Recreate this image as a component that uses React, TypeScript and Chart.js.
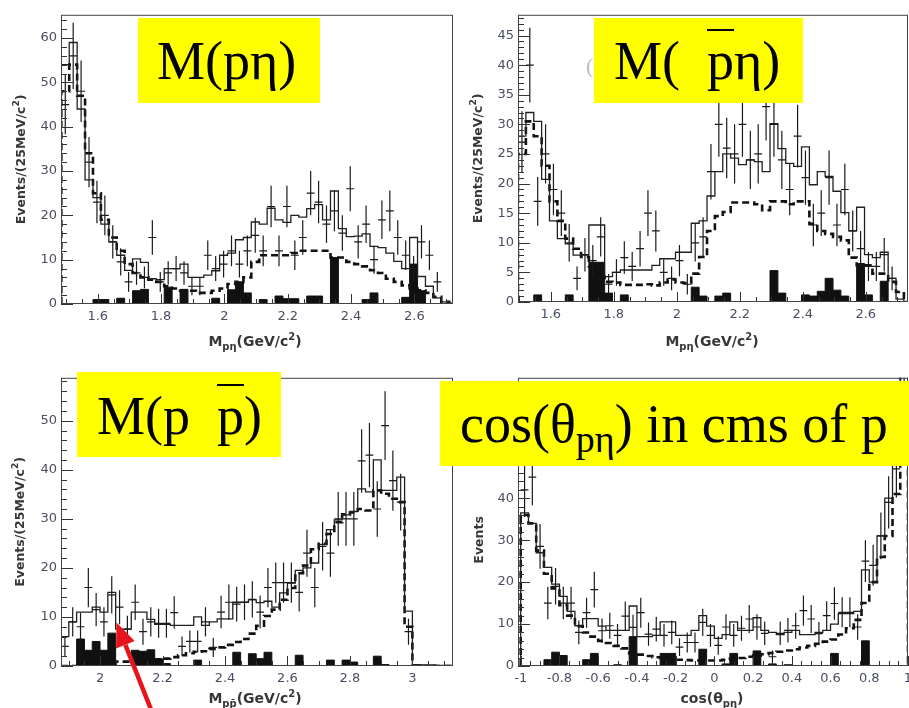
import React, { useEffect, useRef } from "react";
import { Chart, registerables } from "chart.js";

Chart.register(...registerables);

// ---------------- data ----------------
const BIN_W_MASS = 0.025;
const BIN_W_COS = 0.04;
const BIN0_PETA = 1.485;
const BIN0_PBARETA = 1.496;
const BIN0_PPBAR = 1.875;
const BIN0_COS = -1.0;

const X_TICKS_PETA = [1.6, 1.8, 2, 2.2, 2.4, 2.6];
const X_TICKS_PBARETA = [1.6, 1.8, 2, 2.2, 2.4, 2.6];
const X_TICKS_PPBAR = [2, 2.2, 2.4, 2.6, 2.8, 3];
const X_TICKS_COS = [-1, -0.8, -0.6, -0.4, -0.2, 0, 0.2, 0.4, 0.6, 0.8, 1];
const Y_TICKS_PETA = [0, 10, 20, 30, 40, 50, 60];
const Y_TICKS_PBARETA = [0, 5, 10, 15, 20, 25, 30, 35, 40, 45];
const Y_TICKS_PPBAR = [0, 10, 20, 30, 40, 50];
const Y_TICKS_COS = [0, 10, 20, 30, 40, 50, 60];

// M(p eta)
const DATA_PETA = [45, 56, 48, 32, 23, 20, 14, 9.5, 5, 7, 6, 15, 5, 7, 8, 7, 4, 4, 11, 8, 9, 12, 9, 12, 15.5, 12, 22, 12, 22, 11, 15, 25, 23, 18, 21, 16, 26, 14, 18, 10, 19, 21, 15, 11, 8, 14, 11, 5, 0, 0];
const FIT_PETA = [54, 59, 44, 28, 24, 18, 14, 11, 7.6, 10.2, 9.4, 5.7, 5.5, 8, 8, 9, 6, 6, 6.5, 7.5, 11, 11.5, 14.5, 15, 18.5, 18, 21.6, 19, 18.4, 20, 19.6, 21.5, 22.4, 19, 25.5, 17, 15.2, 15.3, 15.8, 13, 12.7, 11.5, 9.6, 8, 15, 6.2, 4, 1.4, 0.5, 0.2];
const PHSP_PETA = [48, 54, 47, 34, 25, 19, 15, 12, 9, 7, 6, 5.5, 5, 4, 3.5, 3, 3, 2.5, 2.5, 3, 3.5, 4.5, 5, 6, 9.5, 11, 11, 11, 11, 11.5, 12, 12, 12, 12, 10.5, 10.5, 9.5, 9, 8.5, 7.6, 7, 5.7, 5, 4.2, 3.5, 3.1, 2.5, 1.6, 0.5, 0];
const BKG_PETA = [0, 0, 0, 0, 1, 1, 0, 1.3, 0, 3, 3.3, 0, 0, 3.8, 0, 3.3, 0, 0, 0, 1.3, 0, 3.2, 5, 2.5, 0, 1, 0, 1.8, 1.2, 1.2, 0, 1.8, 1.8, 0, 10.5, 0, 0, 0, 1, 2.5, 0, 0, 0, 1.5, 9, 3, 0, 0, 0, 0];

// M(pbar eta)
const DATA_PBARETA = [27, 40, 17, 25, 19, 15, 10, 4, 8, 7, 11, 3, 5, 7.5, 6, 9, 15, 12, 5, 4, 7, 3, 10, 11, 22, 30, 26, 25, 30, 24, 25, 33, 30, 24, 19, 28, 21, 13, 15, 21, 13, 19, 12, 9, 6, 6, 8, 4, 0, 0];
const FIT_PBARETA = [28, 32, 30.5, 20.7, 13.7, 10.7, 9.8, 7.9, 7.9, 13, 13, 4.3, 5, 5.4, 5.4, 5.4, 5.4, 6.2, 7.3, 7.3, 8.4, 8.4, 13.3, 13.7, 17.9, 22, 25, 24.3, 23.2, 24, 23.7, 22, 30.1, 25.9, 23.4, 22.9, 26.2, 19.8, 22, 21.2, 18.7, 15.1, 12, 16, 8, 7.5, 8.4, 4, 0.5, 0];
const PHSP_PBARETA = [25, 30.5, 28, 23, 17, 13.7, 10.7, 9, 7.6, 6, 4.3, 3.4, 3.3, 2.9, 2.9, 2.9, 3, 2.8, 3.3, 3.8, 3.3, 3.2, 4.8, 7.6, 12, 14.5, 15.2, 16.8, 16.8, 16.8, 16.5, 15.5, 17, 17, 16.5, 17, 17, 13.2, 12, 11.5, 11, 10.4, 7.5, 6.2, 6.2, 4.8, 4.8, 3.4, 1.7, 0];
const BKG_PBARETA = [0, 0, 1.2, 0, 0, 0, 1.2, 0, 0, 6.7, 6.7, 1.5, 0, 1.2, 0, 0, 0, 0, 0, 0, 0, 0, 2.5, 1, 0, 1, 1.5, 0, 0, 0, 0, 0, 5.3, 1.5, 0, 0, 1.2, 1, 1.8, 4, 2, 1, 0, 6.5, 1.2, 0, 3.5, 0, 0, 0];

// M(p pbar)
const DATA_PPBAR = [4, 9, 8, 16, 11.5, 9, 14.5, 12, 7.5, 13, 7, 9, 8.7, 8.7, 10.9, 4, 5, 5, 9, 3.8, 11, 13, 12.6, 13, 13.6, 11, 16, 17, 17, 17, 15, 23, 16, 24.4, 23, 30, 30, 30, 41.8, 43, 32, 49, 37.8, 33.4, 7, 0, 0, 0, 0, 0];
const FIT_PPBAR = [6, 9, 11, 11, 12, 11, 15, 7.5, 7.5, 11, 11, 9.5, 8.5, 8.5, 8.3, 8.3, 8.3, 10, 8.3, 9, 9.6, 9.6, 13, 13, 13.5, 12.9, 13.2, 12, 14.9, 16.9, 19.5, 20, 21, 24.8, 27.8, 29.8, 30.8, 31.5, 36.1, 35.5, 42, 35.8, 35.8, 38.5, 11.2, 0.3, 0.2, 0.2, 0.1, 0.1];
const PHSP_PPBAR = [0, 0, 0, 0, 0, 0, 0.5, 0.9, 0.9, 1, 1, 1.2, 1.3, 1.5, 1.8, 2.2, 2.6, 2.9, 3, 3.5, 3.8, 4.3, 4.9, 5.5, 6.6, 8.2, 10.2, 11.5, 13.5, 15.9, 18.9, 20.5, 23.8, 24.9, 26.9, 29.3, 30.9, 31.3, 32, 31.7, 35.8, 35.1, 34.1, 33.4, 8, 0, 0, 0, 0, 0];
const BKG_PPBAR = [0, 0, 5.5, 3.2, 5, 3.2, 6.7, 0, 0, 3.2, 3, 3.3, 1.5, 0.5, 0, 0, 0, 1.2, 0, 0, 0, 0, 2.8, 0, 2.5, 1.5, 2.8, 0, 0, 0, 2.2, 0, 0, 0, 1.2, 0, 1.2, 0.8, 0, 0, 2, 0.3, 0, 0, 0, 0, 0, 0, 0, 0];

// cos(theta_p eta)
const DATA_COS = [42, 45, 28.5, 15, 19, 15, 15, 8, 12.7, 18.2, 8.4, 9.6, 7.3, 11.9, 9.2, 12.7, 7.6, 8.8, 7.3, 8, 4.5, 5.6, 5.6, 10.4, 7.3, 4.9, 9.3, 7.3, 9, 11.2, 9.3, 7.8, 2.2, 7.8, 8.5, 9.6, 13.2, 11.2, 7.7, 12, 14.9, 12.8, 12.8, 9.3, 25, 24, 31, 39, 47, 62];
const FIT_COS = [36.5, 34, 27, 23.5, 19.5, 16.6, 13, 9.6, 11.3, 11.3, 9.5, 8.5, 8.5, 8.5, 14.3, 7, 7, 7.3, 10.5, 10.5, 7.3, 7.3, 8.5, 12, 9.5, 6.6, 7.5, 10.5, 8.5, 8.5, 11.5, 8.5, 8, 7.5, 8, 8.5, 7.5, 7.5, 8, 8.5, 10, 12.5, 12.5, 13, 22.9, 20, 31, 40, 48, 75];
const PHSP_COS = [36, 34, 27.5, 22, 18.5, 14.5, 12, 9.5, 8, 7, 6, 5.5, 4.8, 4.2, 3, 2.7, 2.4, 2.1, 1.9, 1.7, 1.5, 1.4, 1.3, 1.3, 1.3, 1.3, 1.5, 1.7, 1.9, 2.2, 2.5, 2.8, 3.1, 3.4, 3.7, 4, 4.4, 4.8, 5.3, 5.8, 6.3, 7.5, 9, 11, 15, 20, 26, 31, 41, 75];
const BKG_COS = [0, 0, 0, 1.5, 3.3, 2.5, 0, 0, 1.5, 3, 0, 0, 0.3, 0, 7, 0, 0, 0, 3, 3, 0, 0, 0, 4, 0, 0, 0.5, 3, 0, 0, 3.6, 0, 0.5, 0, 0.3, 0, 0, 0, 0, 0, 3, 0, 0, 0, 6, 0, 0, 0, 0, 0];

// ---------------- styling / layout ----------------
const SANS = '"DejaVu Sans", "Liberation Sans", Arial, sans-serif';
const SERIF = '"Liberation Serif", "Times New Roman", serif';
const TICK_COLOR = "#4a4e62";
const TITLE_COLOR = "#3a3636";
const Y_AXIS_W = 61;
const PAD_TOP = 8;

type Part = [string, string];

const MASS_Y_TITLE: Part[] = [["Events/(25MeV/c", "n"], ["2", "sup"], [")", "n"]];

const PANELS = [
  {
    key: "peta", L: 61, R: 453, T: 11, B: 304, padRight: 6, xAxH: 50,
    xMin: 1.484, xMax: 2.722, yMax: 65.25, xTicks: X_TICKS_PETA, yTicks: Y_TICKS_PETA,
    xMinor: 0.05, yMinor: 2, bin0: BIN0_PETA, bw: BIN_W_MASS,
    data: DATA_PETA, fit: FIT_PETA, phsp: PHSP_PETA, bkg: BKG_PETA,
    xTitle: [["M", "n"], ["p\u03b7", "sub"], ["(GeV/c", "n"], ["2", "sup"], [")", "n"]] as Part[],
    yTitle: MASS_Y_TITLE, xTitleDx: -2, xTitleDy: 42, yTitleDx: -41, yTitleDy: 0,
  },
  {
    key: "pbareta", L: 518, R: 908, T: 11, B: 302, padRight: 12, xAxH: 50,
    xMin: 1.496, xMax: 2.734, yMax: 48.5, xTicks: X_TICKS_PBARETA, yTicks: Y_TICKS_PBARETA,
    xMinor: 0.05, yMinor: 1, bin0: BIN0_PBARETA, bw: BIN_W_MASS,
    data: DATA_PBARETA, fit: FIT_PBARETA, phsp: PHSP_PBARETA, bkg: BKG_PBARETA,
    xTitle: [["M", "n"], ["p\u03b7", "sub"], ["(GeV/c", "n"], ["2", "sup"], [")", "n"]] as Part[],
    yTitle: MASS_Y_TITLE, xTitleDx: -1, xTitleDy: 44, yTitleDx: -41, yTitleDy: 0,
  },
  {
    key: "ppbar", L: 61, R: 453, T: 374, B: 666, padRight: 6, xAxH: 42,
    xMin: 1.875, xMax: 3.13, yMax: 58.75, xTicks: X_TICKS_PPBAR, yTicks: Y_TICKS_PPBAR,
    xMinor: 0.05, yMinor: 2, bin0: BIN0_PPBAR, bw: BIN_W_MASS,
    data: DATA_PPBAR, fit: FIT_PPBAR, phsp: PHSP_PPBAR, bkg: BKG_PPBAR,
    xTitle: [["M", "n"], ["pp\u0304", "sub"], ["(GeV/c", "n"], ["2", "sup"], [")", "n"]] as Part[],
    yTitle: MASS_Y_TITLE, xTitleDx: -2, xTitleDy: 37, yTitleDx: -42, yTitleDy: 0,
  },
  {
    key: "cos", L: 518, R: 908, T: 374, B: 666, padRight: 12, xAxH: 42,
    xMin: -1.014, xMax: 1.0, yMax: 68.7, xTicks: X_TICKS_COS, yTicks: Y_TICKS_COS,
    xMinor: 0.05, yMinor: 2, bin0: BIN0_COS, bw: BIN_W_COS,
    data: DATA_COS, fit: FIT_COS, phsp: PHSP_COS, bkg: BKG_COS,
    xTitle: [["cos(\u03b8", "n"], ["p\u03b7", "sub"], [")", "n"]] as Part[],
    yTitle: [["Events", "n"]] as Part[], xTitleDx: -1, xTitleDy: 37, yTitleDx: -40, yTitleDy: 18,
  },
];

// ---------------- helpers ----------------
function histPoints(bin0: number, w: number, vals: number[]) {
  const pts: { x: number; y: number }[] = [{ x: bin0, y: 0 }];
  vals.forEach((v, k) => pts.push({ x: bin0 + k * w, y: v }));
  const end = bin0 + vals.length * w;
  pts.push({ x: end, y: vals[vals.length - 1] });
  pts.push({ x: end, y: 0 });
  return pts;
}

function crossPoints(bin0: number, w: number, vals: number[]) {
  const pts: { x: number; y: number | null }[] = [];
  vals.forEach((v, k) => {
    if (v <= 0) return;
    const c = bin0 + (k + 0.5) * w;
    const e = Math.sqrt(v);
    pts.push({ x: c, y: v - e }, { x: c, y: v + e }, { x: c, y: null });
    pts.push({ x: c - w / 2, y: v }, { x: c + w / 2, y: v }, { x: c, y: null });
  });
  return pts;
}

function drawParts(ctx: CanvasRenderingContext2D, parts: Part[], size: number, cx: number, baseline: number) {
  const fN = `bold ${size}px ${SANS}`;
  const fS = `bold ${Math.round(size * 0.7)}px ${SANS}`;
  let total = 0;
  const widths = parts.map(([t, k]) => {
    ctx.font = k === "n" ? fN : fS;
    const w = ctx.measureText(t).width;
    total += w;
    return w;
  });
  let x = cx - total / 2;
  ctx.textAlign = "left";
  ctx.textBaseline = "alphabetic";
  parts.forEach(([t, k], i) => {
    ctx.font = k === "n" ? fN : fS;
    const dy = k === "sub" ? size * 0.32 : k === "sup" ? -size * 0.42 : 0;
    ctx.fillText(t, x, baseline + dy);
    x += widths[i];
  });
}

const rootFrame = {
  id: "rootFrame",
  afterDraw(chart: any, _args: any, o: any) {
    const { ctx, chartArea: a } = chart;
    const xs = chart.scales.x;
    const ys = chart.scales.y;
    const isMaj = (v: number, list: number[]) => list.some((m) => Math.abs(m - v) < 1e-6);
    ctx.save();
    ctx.strokeStyle = "#333";
    ctx.lineWidth = 1;
    ctx.beginPath();
    const i0 = Math.ceil(xs.min / o.xMinor - 1e-6);
    const i1 = Math.floor(xs.max / o.xMinor + 1e-6);
    for (let i = i0; i <= i1; i++) {
      const v = i * o.xMinor;
      const len = isMaj(v, o.xTicks) ? 10 : 5;
      const px = Math.round(xs.getPixelForValue(v)) + 0.5;
      ctx.moveTo(px, a.bottom);
      ctx.lineTo(px, a.bottom - len);
    }
    const j0 = Math.ceil(ys.min / o.yMinor - 1e-6);
    const j1 = Math.floor(ys.max / o.yMinor + 1e-6);
    for (let j = j0; j <= j1; j++) {
      const v = j * o.yMinor;
      const len = isMaj(v, o.yTicks) ? 12 : 6;
      const py = Math.round(ys.getPixelForValue(v)) + 0.5;
      ctx.moveTo(a.left, py);
      ctx.lineTo(a.left + len, py);
    }
    ctx.stroke();
    ctx.strokeStyle = "#444";
    ctx.strokeRect(a.left + 0.5, a.top + 0.5, a.right - a.left - 1, a.bottom - a.top - 1);

    ctx.fillStyle = TITLE_COLOR;
    drawParts(ctx, o.xTitle, 14, (a.left + a.right) / 2 + o.xTitleDx, a.bottom + o.xTitleDy);
    ctx.translate(a.left + o.yTitleDx, (a.top + a.bottom) / 2 + o.yTitleDy);
    ctx.rotate(-Math.PI / 2);
    drawParts(ctx, o.yTitle, 12.5, 0, 4.5);
    ctx.restore();
  },
};

function PanelChart({ p }: { p: any }) {
  const ref = useRef<HTMLCanvasElement>(null);
  useEffect(() => {
    const tickFont = { family: SANS, size: 13 };
    const chart = new Chart(ref.current as HTMLCanvasElement, {
      type: "line",
      data: {
        datasets: [
          {
            label: "data",
            data: crossPoints(p.bin0, p.bw, p.data),
            borderColor: "#1a1a1a",
            borderWidth: 1.2,
            pointRadius: 0,
            spanGaps: false,
            fill: false,
            order: 0,
          },
          {
            label: "fit",
            data: histPoints(p.bin0, p.bw, p.fit),
            stepped: true,
            borderColor: "#202020",
            borderWidth: 1.3,
            pointRadius: 0,
            fill: false,
            order: 1,
          },
          {
            label: "phase space",
            data: histPoints(p.bin0, p.bw, p.phsp),
            stepped: true,
            borderColor: "#111",
            borderWidth: 2.6,
            borderDash: [7, 4],
            pointRadius: 0,
            fill: false,
            order: 2,
          },
          {
            label: "background",
            data: histPoints(p.bin0, p.bw, p.bkg),
            stepped: true,
            borderColor: "#111",
            borderWidth: 1,
            backgroundColor: "#111",
            pointRadius: 0,
            fill: "origin",
            order: 3,
          },
        ],
      } as any,
      options: {
        animation: false,
        responsive: true,
        maintainAspectRatio: false,
        events: [],
        layout: { padding: { left: 0, right: p.padRight, top: PAD_TOP, bottom: 0 } },
        plugins: {
          legend: { display: false },
          tooltip: { enabled: false },
          title: { display: false },
          rootFrame: {
            xTicks: p.xTicks, yTicks: p.yTicks, xMinor: p.xMinor, yMinor: p.yMinor,
            xTitle: p.xTitle, yTitle: p.yTitle, xTitleDx: p.xTitleDx, xTitleDy: p.xTitleDy,
            yTitleDx: p.yTitleDx, yTitleDy: p.yTitleDy,
          },
        } as any,
        scales: {
          x: {
            type: "linear",
            min: p.xMin,
            max: p.xMax,
            afterBuildTicks: (s: any) => { s.ticks = p.xTicks.map((v: number) => ({ value: v })); },
            afterFit: (s: any) => { s.height = p.xAxH; },
            grid: { display: false, drawTicks: false },
            border: { display: false },
            ticks: {
              autoSkip: false, maxRotation: 0, minRotation: 0, padding: 5,
              color: TICK_COLOR, font: tickFont,
              callback: (v: any) => String(v),
            },
          },
          y: {
            type: "linear",
            min: 0,
            max: p.yMax,
            afterBuildTicks: (s: any) => { s.ticks = p.yTicks.map((v: number) => ({ value: v })); },
            afterFit: (s: any) => { s.width = Y_AXIS_W; },
            grid: { display: false, drawTicks: false },
            border: { display: false },
            ticks: {
              autoSkip: false, padding: 4, color: TICK_COLOR, font: tickFont,
              callback: (v: any) => String(v),
            },
          },
        },
      } as any,
      plugins: [rootFrame as any],
    });
    return () => chart.destroy();
  }, []);
  const left = p.L - Y_AXIS_W;
  const top = p.T - PAD_TOP;
  const width = p.R - p.L + Y_AXIS_W + p.padRight;
  const height = p.B - p.T + PAD_TOP + p.xAxH;
  return (
    <div style={{ position: "absolute", left, top, width, height }}>
      <canvas ref={ref} />
    </div>
  );
}

const LABEL_FONT = 54;
const textStyle = (left: number, baseline: number): React.CSSProperties => ({
  position: "absolute",
  left,
  top: baseline - 45,
  fontFamily: SERIF,
  fontSize: LABEL_FONT,
  lineHeight: `${LABEL_FONT}px`,
  whiteSpace: "pre",
  color: "#000",
});
const boxStyle = (left: number, top: number, width: number, height: number): React.CSSProperties => ({
  position: "absolute",
  left,
  top,
  width,
  height,
  background: "#ffff00",
});
const bar: React.CSSProperties = { textDecoration: "overline", textDecorationThickness: "2px" };

export default function App() {
  return (
    <div style={{ position: "absolute", left: 0, top: 0, width: 909, height: 708, overflow: "hidden", background: "#fff" }}>
      {PANELS.map((p) => (
        <PanelChart key={p.key} p={p} />
      ))}
      <div style={{ position: "absolute", left: 586, top: 55, fontFamily: SERIF, fontSize: 22, lineHeight: "22px", color: "#bdbdbd" }}>(</div>
      <div style={boxStyle(138, 18, 182, 85)} />
      <div style={textStyle(157, 79)}>M(p&#951;)</div>
      <div style={boxStyle(594, 18, 209, 85)} />
      <div style={textStyle(614, 79)}>
        {"M(  "}<span style={bar}>p</span>{"\u03b7)"}
      </div>
      <div style={boxStyle(77, 372, 204, 85)} />
      <div style={textStyle(97, 434)}>
        {"M(p  "}<span style={bar}>p</span>{")"}
      </div>
      <div style={boxStyle(440, 381, 469, 85)} />
      <div style={textStyle(460, 442)}>
        {"cos(\u03b8"}
        <span style={{ fontSize: 38, position: "relative", top: 10 }}>p&#951;</span>
        {") in cms of p"}
      </div>
      <svg width={909} height={708} style={{ position: "absolute", left: 0, top: 0, pointerEvents: "none" }}>
        <line x1={152} y1={712} x2={125.4} y2={644.8} stroke="#e8141b" strokeWidth={4.5} />
        <polygon points="116.5,622.5 134.7,641.1 116.1,648.5" fill="#e8141b" />
      </svg>
    </div>
  );
}
